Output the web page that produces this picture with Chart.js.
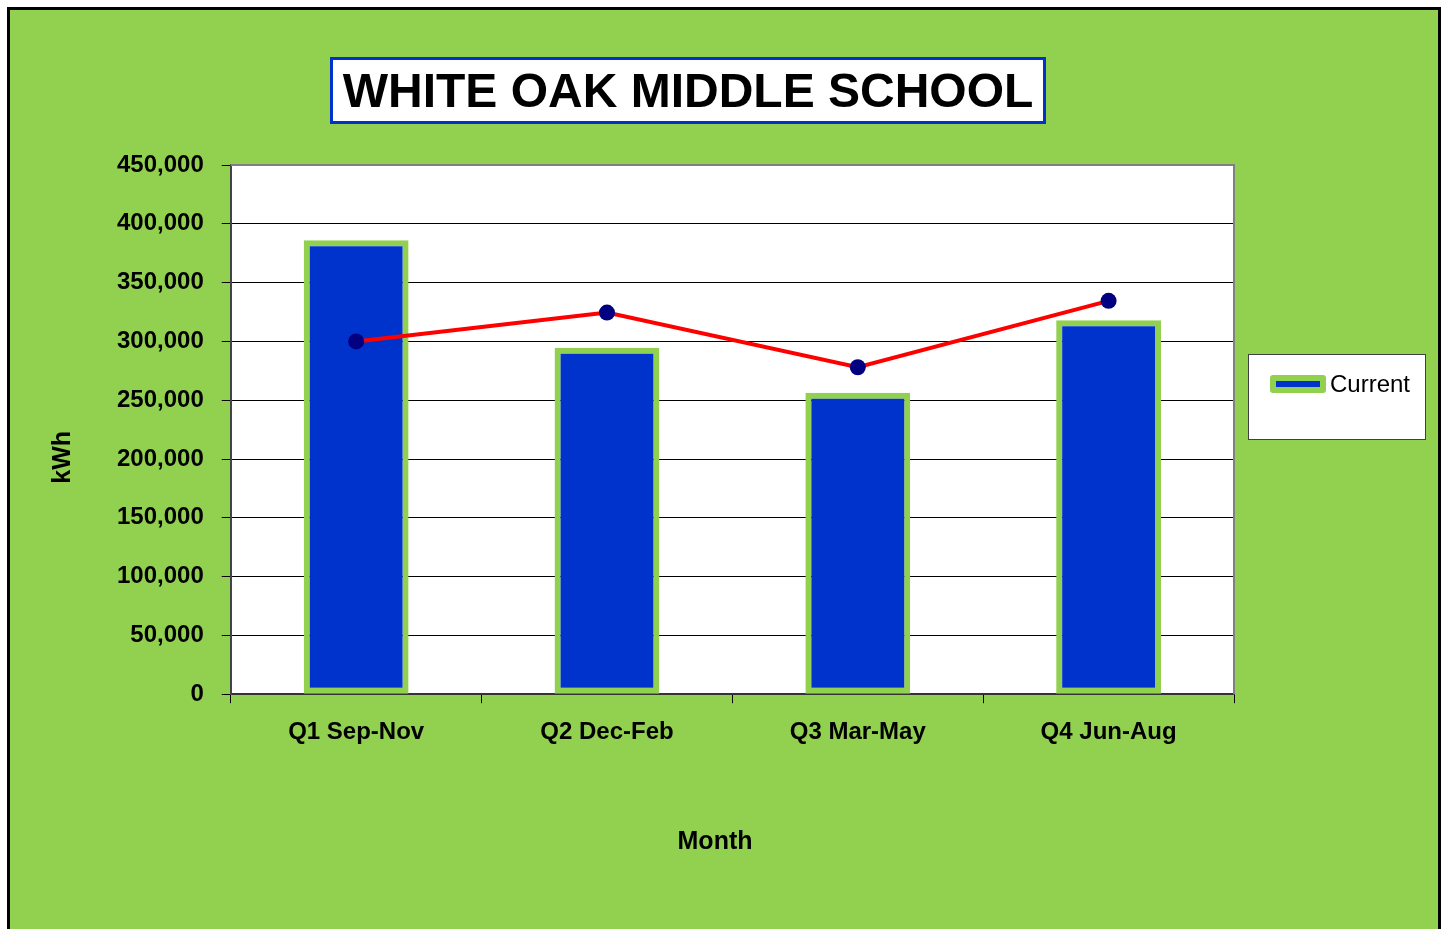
<!DOCTYPE html>
<html>
<head>
<meta charset="utf-8">
<title>White Oak Middle School</title>
<script src="https://cdn.jsdelivr.net/npm/chart.js@4.4.0/dist/chart.umd.min.js"></script>
<style>
  html,body{margin:0;padding:0;background:#fff;}
  #wrap{width:1444px;height:929px;}
</style>
</head>
<body>
<div id="wrap"><canvas id="chart" width="1444" height="929"></canvas></div>
<script>
/* data */
const chartTitle = 'WHITE OAK MIDDLE SCHOOL';
const quarters = ['Q1 Sep-Nov','Q2 Dec-Feb','Q3 Mar-May','Q4 Jun-Aug'];
const currentKwh = [386000, 294500, 256300, 318000];
const priorKwh = [300000, 324500, 278000, 334500];
const yTicks = [0, 50000, 100000, 150000, 200000, 250000, 300000, 350000, 400000, 450000];

const GREEN = '#92D050';
const BLUE = '#0033CC';

Chart.defaults.font.family = "'Liberation Sans', Arial, sans-serif";
Chart.defaults.color = '#000';

/* background, plot frame, title box, legend box */
const decor = {
  id:'decor',
  beforeDraw(chart){
    const c = chart.ctx, a = chart.chartArea;
    c.save();
    c.fillStyle = '#fff'; c.fillRect(0,0,chart.width,chart.height);
    c.fillStyle = '#000'; c.fillRect(7,7,1434,930);
    c.fillStyle = GREEN; c.fillRect(10,10,1428,930);
    c.fillStyle = '#fff'; c.fillRect(a.left,a.top,a.right-a.left,a.bottom-a.top);
    c.restore();
  },
  beforeDatasetsDraw(chart){
    const c = chart.ctx, a = chart.chartArea;
    c.save();
    c.strokeStyle = '#808080'; c.lineWidth = 2;
    c.beginPath();
    c.moveTo(a.left, a.top); c.lineTo(a.right, a.top); c.lineTo(a.right, a.bottom);
    c.stroke();
    c.restore();
  },
  afterDraw(chart){
    const c = chart.ctx;
    c.save();
    // title box
    c.fillStyle = '#fff'; c.fillRect(331,58,713,64);
    c.strokeStyle = BLUE; c.lineWidth = 3; c.strokeRect(331.5,58.5,713,64);
    c.fillStyle = '#000';
    c.font = "bold 48px 'Liberation Sans', Arial, sans-serif";
    c.textAlign = 'center'; c.textBaseline = 'middle';
    c.fillText(chartTitle, 688, 94);
    // legend box
    c.fillStyle = '#fff'; c.fillRect(1248,354,178,86);
    c.strokeStyle = '#404040'; c.lineWidth = 1; c.strokeRect(1248.5,354.5,177,85);
    const ds = chart.data.datasets[0];
    c.fillStyle = ds.borderColor;
    c.beginPath(); c.roundRect(1270,375,56,18,3); c.fill();
    c.fillStyle = ds.backgroundColor; c.fillRect(1276,381,44,6);
    c.fillStyle = '#000';
    c.font = "24px 'Liberation Sans', Arial, sans-serif";
    c.textAlign = 'left'; c.textBaseline = 'middle';
    c.fillText(ds.label, 1330, 385);
    c.restore();
  }
};

new Chart(document.getElementById('chart'), {
  type:'bar',
  data:{
    labels: quarters,
    datasets:[
      { type:'bar', label:'Current', data: currentKwh, backgroundColor: BLUE, borderColor: GREEN,
        borderWidth:6, borderSkipped:false, barPercentage:0.418, categoryPercentage:1, order:2 },
      { type:'line', label:'Prior Year', data: priorKwh, borderColor:'#FF0000', borderWidth:4,
        pointRadius:8, pointBackgroundColor:'#000080', pointBorderWidth:0, tension:0, order:1 }
    ]
  },
  options:{
    responsive:false,
    animation:false,
    layout:{ padding:{ top:165, right:210, bottom:72, left:20 } },
    plugins:{ legend:{display:false}, title:{display:false}, tooltip:{enabled:false} },
    scales:{
      x:{
        offset:true,
        border:{ color:'#333', width:2 },
        grid:{ display:true, drawOnChartArea:false, drawTicks:true, tickLength:9, color:'#000', offset:true },
        ticks:{ padding:15, font:{ size:24, weight:'bold' }, color:'#000' },
        // trailing spaces nudge the centred title left, as in the original
        title:{ display:true, text:'Month     ', font:{ size:25, weight:'bold' }, color:'#000', padding:{ top:65, bottom:0 } }
      },
      y:{
        min:0, max:450000,
        afterBuildTicks(scale){ scale.ticks = yTicks.map(v=>({value:v})); },
        border:{ color:'#444', width:2 },
        grid:{ color:(ctx)=> ctx.tick && ctx.tick.value === 450000 ? '#808080' : '#000', lineWidth:1, tickLength:9, tickColor:'#000' },
        ticks:{ padding:18, font:{ size:24, weight:'bold' }, color:'#000',
          callback:(v)=> Number(v).toLocaleString('en-US') },
        title:{ display:true, text:'kWh        ', font:{ size:25, weight:'bold' }, color:'#000', padding:{ top:28, bottom:21 } }
      }
    }
  },
  plugins:[decor]
});
</script>
</body>
</html>
